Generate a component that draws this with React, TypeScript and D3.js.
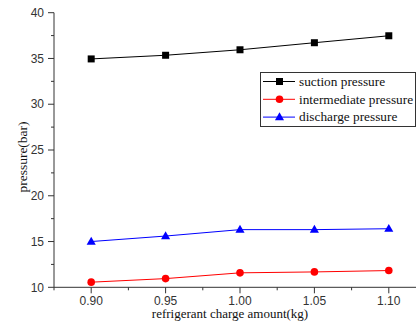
import React from "react";
import * as d3 from "d3";

const charges = [0.9, 0.95, 1.0, 1.05, 1.1];
const suction = [34.95, 35.35, 35.95, 36.72, 37.48];
const intermediate = [10.56, 10.95, 11.58, 11.68, 11.83];
const discharge = [15.0, 15.6, 16.3, 16.3, 16.4];
const xTicks = [0.9, 0.95, 1.0, 1.05, 1.1];
const yTicks = [10, 15, 20, 25, 30, 35, 40];
const seriesNames = ["suction pressure", "intermediate pressure", "discharge pressure"];
const seriesColors = ["#000000", "#ff0000", "#0000ff"];
const seriesShapes = ["square", "circle", "triangle"];

const W = 416, H = 325;
const x = d3.scaleLinear().domain([0.875, 1.125]).range([54, 426]);
const y = d3.scaleLinear().domain([10, 40]).range([287.3, 12.7]);

function Marker({ shape, cx, cy, color }: { shape: string; cx: number; cy: number; color: string }) {
  if (shape === "square") return <rect x={cx - 3.5} y={cy - 3.5} width={7} height={7} fill={color} />;
  if (shape === "circle") return <circle cx={cx} cy={cy} r={3.8} fill={color} />;
  const p = d3.symbol().type(d3.symbolTriangle).size(36)();
  return <path d={p as string} transform={`translate(${cx},${cy + 0.5})`} fill={color} />;
}

export default function App() {
  const data = [suction, intermediate, discharge];
  const line = d3.line<number>().x((_, i) => x(charges[i])).y((d) => y(d));
  const xMinor = d3.range(0.875, 1.126, 0.025);
  const yMinor = d3.range(10, 40.01, 2.5);
  return (
    <svg width={W} height={H} style={{ position: "absolute", left: 0, top: 0, background: "#fff" }}>
      <line x1={54} y1={y(40)} x2={54} y2={y(10)} stroke="#333" strokeWidth={1} />
      <line x1={54} y1={y(10)} x2={W} y2={y(10)} stroke="#333" strokeWidth={1} />
      {yMinor.map((v, i) => (
        <line key={"ym" + i} x1={Math.abs(v % 5) < 0.01 ? 48 : 51} x2={54} y1={y(v)} y2={y(v)} stroke="#333" strokeWidth={1} />
      ))}
      {xMinor.map((v, i) => (
        <line key={"xm" + i} x1={x(v)} x2={x(v)} y1={y(10)} y2={y(10) + (i % 2 === 1 ? 6 : 3)} stroke="#333" strokeWidth={1} />
      ))}
      {yTicks.map((v) => (
        <text key={"yt" + v} x={44} y={y(v)} dy="0.35em" textAnchor="end" fontFamily="Liberation Sans, Arial, sans-serif" fontSize={12} fill="#333">
          {v}
        </text>
      ))}
      {xTicks.map((v) => (
        <text key={"xt" + v} x={x(v)} y={304.5} textAnchor="middle" fontFamily="Liberation Sans, Arial, sans-serif" fontSize={12} fill="#333">
          {v.toFixed(2)}
        </text>
      ))}
      <text x={230} y={318} textAnchor="middle" fontFamily="Liberation Serif, Times New Roman, serif" fontSize={13} fill="#111">
        refrigerant charge amount(kg)
      </text>
      <text transform="translate(27,157) rotate(-90)" textAnchor="middle" fontFamily="Liberation Serif, Times New Roman, serif" fontSize={13.5} fill="#111">
        pressure(bar)
      </text>
      {data.map((s, k) => (
        <g key={"s" + k}>
          <path d={line(s) as string} fill="none" stroke={seriesColors[k]} strokeWidth={1} />
          {s.map((v, i) => (
            <Marker key={i} shape={seriesShapes[k]} cx={x(charges[i])} cy={y(v)} color={seriesColors[k]} />
          ))}
        </g>
      ))}
      <rect x={260.5} y={72.5} width={155} height={54} fill="#fff" stroke="#333" strokeWidth={1} />
      {seriesNames.map((n, k) => {
        const ly = 81.5 + k * 17.8;
        return (
          <g key={"l" + k}>
            <line x1={263} x2={295} y1={ly} y2={ly} stroke={seriesColors[k]} strokeWidth={1} />
            <Marker shape={seriesShapes[k]} cx={279.5} cy={ly} color={seriesColors[k]} />
            <text x={299} y={ly} dy="0.33em" fontFamily="Liberation Serif, Times New Roman, serif" fontSize={13.3} fill="#111">
              {n}
            </text>
          </g>
        );
      })}
    </svg>
  );
}
